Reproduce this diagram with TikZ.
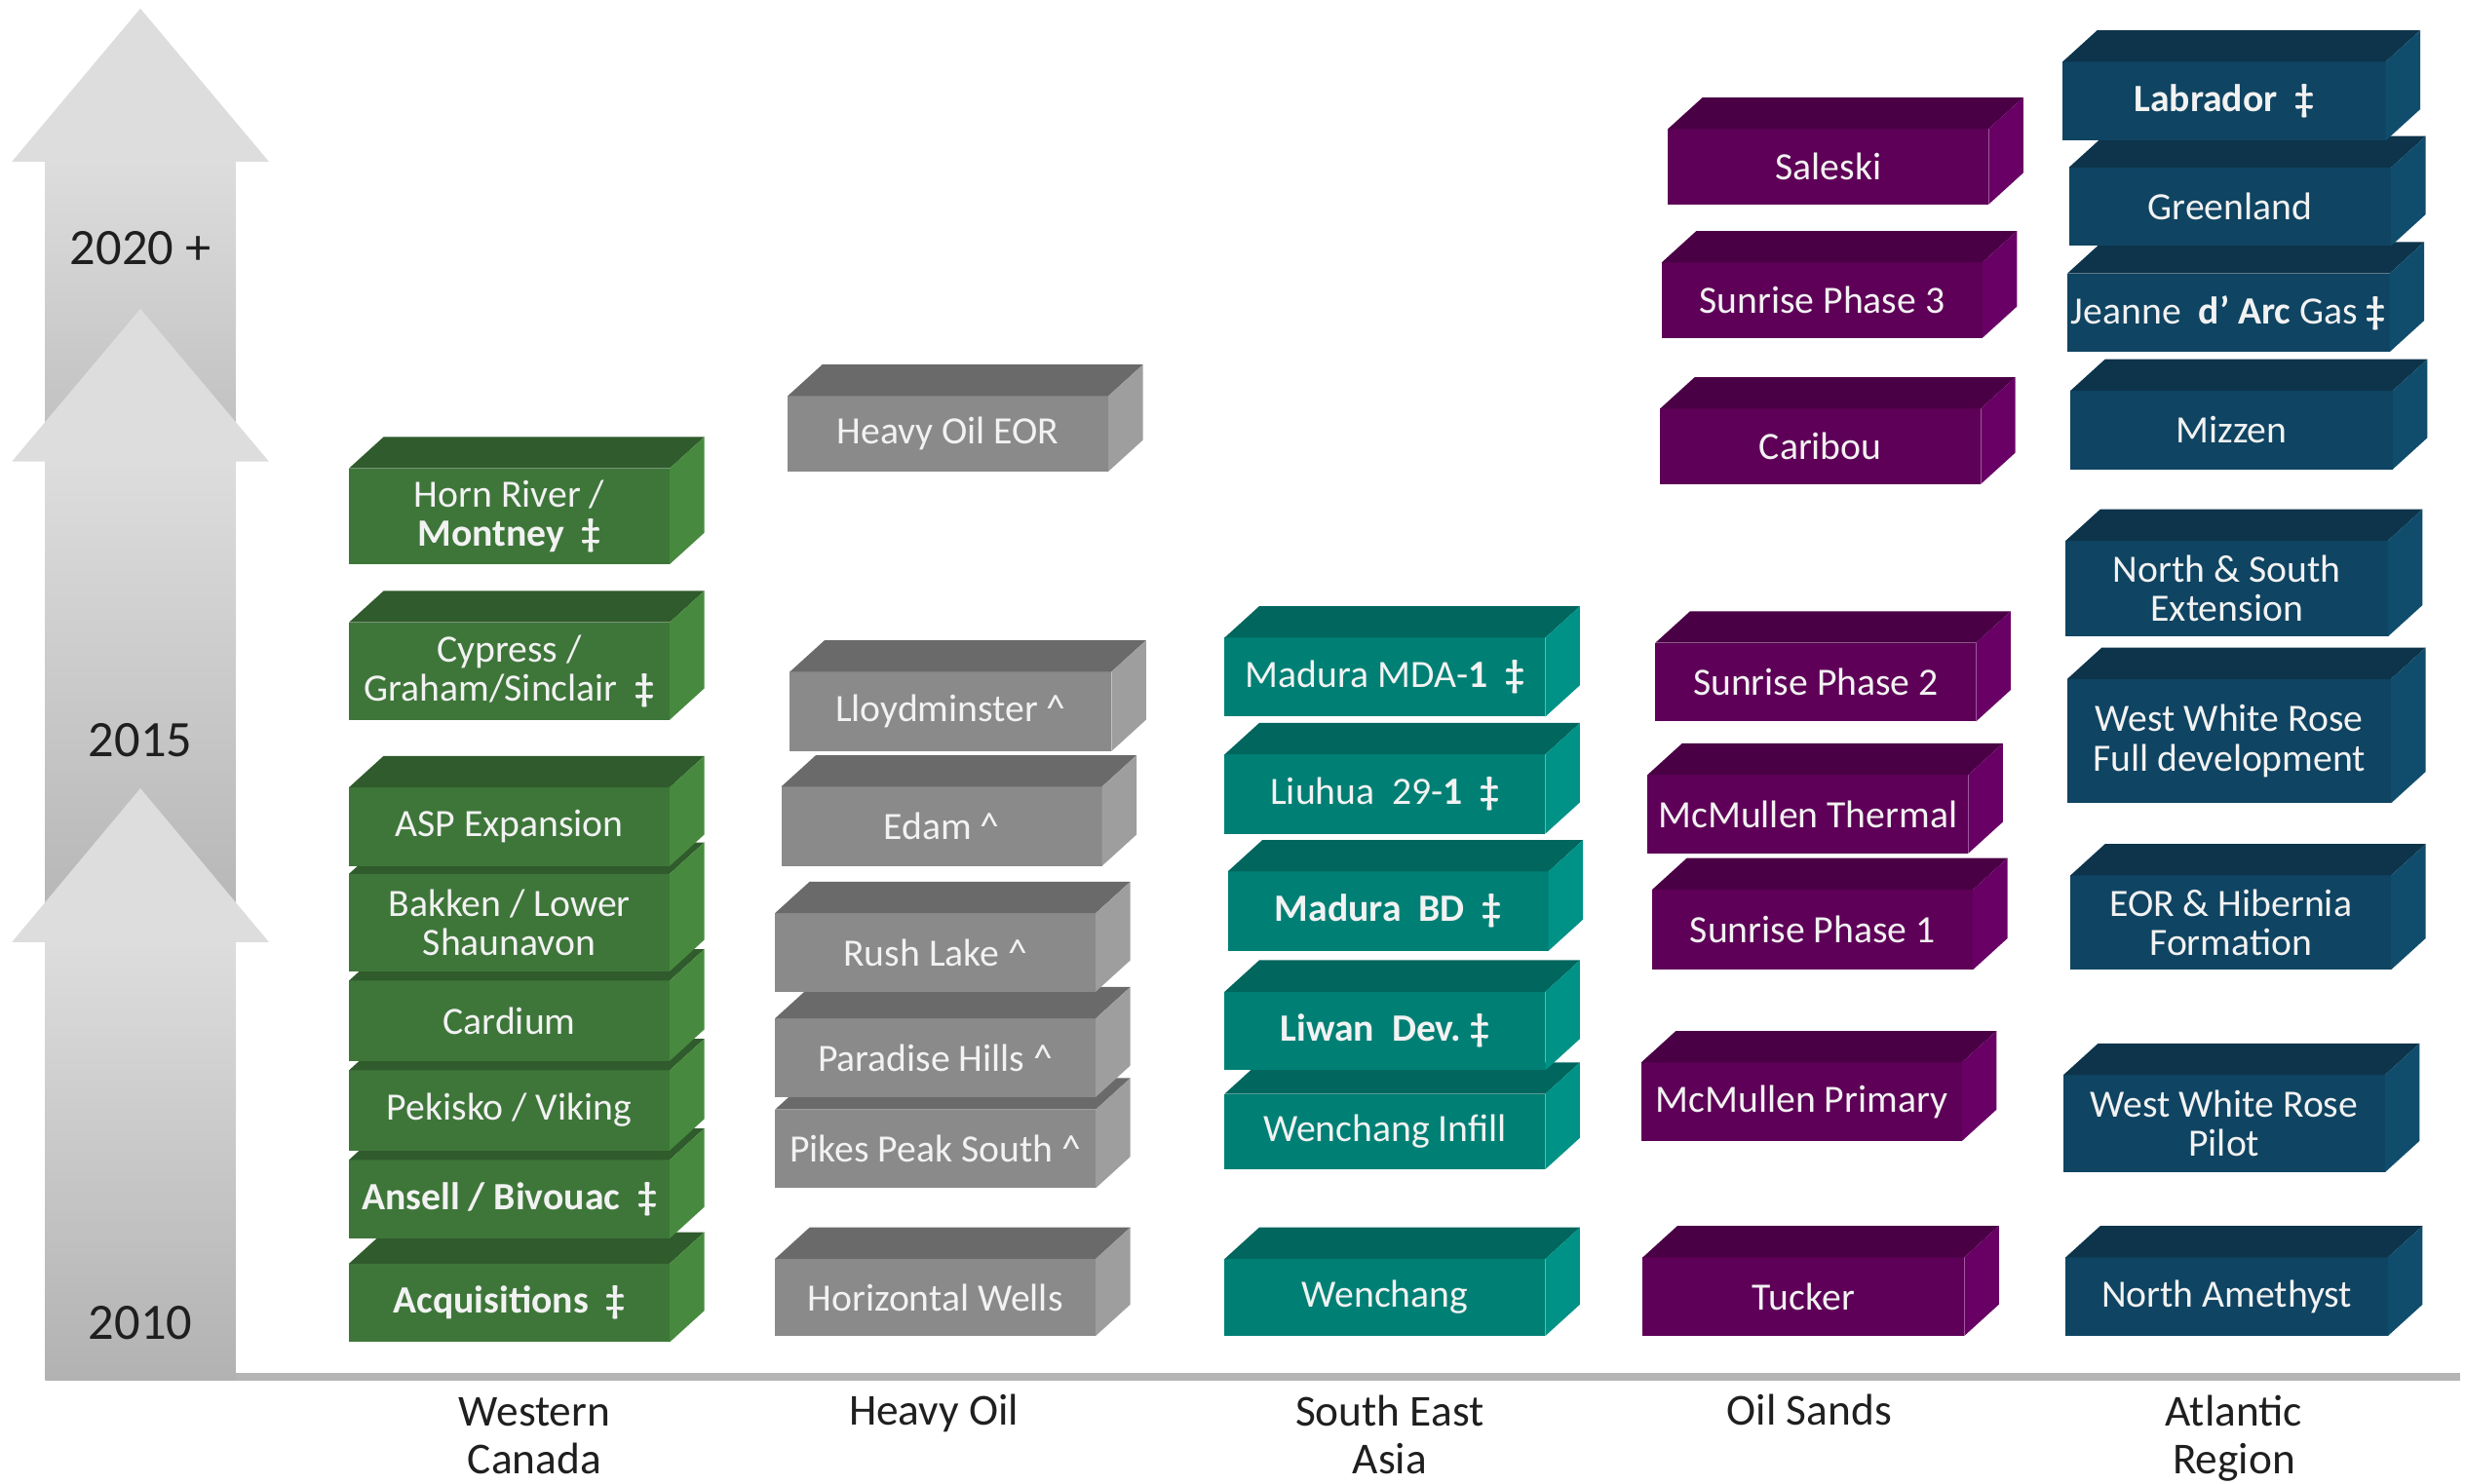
\documentclass[tikz,border=0pt]{standalone}
\usepackage{fontspec}
\setmainfont{Carlito}
\definecolor{wcanF}{HTML}{3E763A}
\definecolor{wcanT}{HTML}{305B2C}
\definecolor{wcanS}{HTML}{478A3F}
\definecolor{hoilF}{HTML}{8A8A8A}
\definecolor{hoilT}{HTML}{6A6A6A}
\definecolor{hoilS}{HTML}{9E9E9E}
\definecolor{seasF}{HTML}{008075}
\definecolor{seasT}{HTML}{00665E}
\definecolor{seasS}{HTML}{009286}
\definecolor{osanF}{HTML}{5E0057}
\definecolor{osanT}{HTML}{4A0045}
\definecolor{osanS}{HTML}{690065}
\definecolor{atlaF}{HTML}{0F4462}
\definecolor{atlaT}{HTML}{0D344B}
\definecolor{atlaS}{HTML}{104D6C}
\definecolor{arrlight}{HTML}{DDDDDD}
\definecolor{arrA}{HTML}{BDBDBD}
\definecolor{arrB}{HTML}{B4B4B4}
\definecolor{arrC}{HTML}{B2B2B2}
\definecolor{axisgrey}{HTML}{B5B5B5}
\tikzset{slabface/.style={inner sep=0pt, outer sep=0pt, anchor=north west,
		align=center, text=white!95!black, font=\fontsize{14}{14.2}\selectfont},
	yearlabel/.style={font=\fontsize{18.5}{20}\selectfont, text=black!88},
	arealabel/.style={font=\fontsize{16}{17.6}\selectfont, text=black!88,
		align=center, anchor=base}}
\newcommand{\slab}[7]{%
	\node[slabface, fill=#2F, minimum width={(#5-#3)*0.02cm},
	minimum height={(#6-#4)*0.02cm}] (#1) at (#3,#4) {#7};
	\fill[#2T] (#1.north west) -- ++(22,-20) -- ([shift={(22,-20)}]#1.north east)
	-- (#1.north east) -- cycle;
	\fill[#2S] (#1.north east) -- ++(22,-20) -- ([shift={(22,-20)}]#1.south east)
	-- (#1.south east) -- cycle;}

\begin{document}
\begin{tikzpicture}[x=0.02cm, y=-0.02cm]
	\useasboundingbox (0,0) rectangle (1568,943.7);
	\foreach \tip/\base/\foot/\dk in {5.4/102.8/300/arrA, 196.5/293.6/600/arrB, 501.6/599.4/878.4/arrC}{
		\shade[top color=arrlight, bottom color=\dk] (28.8,\base-1) rectangle (150,\foot);
		\fill[arrlight] (7.6,\base) -- (89.3,\tip) -- (171,\base) -- cycle;
	}
	\coordinate (axL) at (150,875.8);
	\coordinate (axR) at (1565,875.8);
	\draw[axisgrey, line width=0.1cm] (axL) -- (axR);
	\node[yearlabel] (yr2020) at (89.3,158) {2020 +};
	\node[yearlabel] (yr2015) at (89.3,471) {2015};
	\node[yearlabel] (yr2010) at (89.3,842) {2010};
	
	\slab{acquis}{wcan}{222}{804}{426}{854}{\textbf{Acquisitions~~‡}}
	\slab{ansell}{wcan}{222}{738}{426}{788}{\textbf{Ansell / Bivouac~~‡}}
	\slab{pekisko}{wcan}{222}{681}{426}{732}{Pekisko / Viking}
	\slab{cardium}{wcan}{222}{624}{426}{675}{Cardium}
	\slab{bakken}{wcan}{222}{556}{426}{618}{Bakken / Lower\\Shaunavon}
	\slab{aspexp}{wcan}{222}{501}{426}{551}{ASP Expansion}
	\slab{cypress}{wcan}{222}{396}{426}{458}{Cypress /\\Graham/Sinclair~~\textbf{‡}}
	\slab{hornriv}{wcan}{222}{298}{426}{359}{Horn River /\\\textbf{Montney~~‡}}
	
	\slab{horizw}{hoil}{493}{801}{697}{850}{Horizontal Wells}
	\slab{pikes}{hoil}{493}{706}{697}{756}{Pikes Peak South \textasciicircum}
	\slab{paradise}{hoil}{493}{648}{697}{698}{Paradise Hills \textasciicircum}
	\slab{rushlake}{hoil}{493}{581}{697}{631}{Rush Lake \textasciicircum}
	\slab{edam}{hoil}{497}{500.5}{701}{551}{Edam \textasciicircum}
	\slab{lloyd}{hoil}{502.5}{427.4}{707}{478}{Lloydminster \textasciicircum}
	\slab{hoileor}{hoil}{501}{252}{705}{300}{Heavy Oil EOR}
	
	\slab{wenchang}{seas}{779}{801}{983}{850}{Wenchang}
	\slab{wcinfill}{seas}{779}{696}{983}{744}{Wenchang Infill}
	\slab{liwan}{seas}{779}{631}{983}{681}{\textbf{Liwan~~Dev.~‡}}
	\slab{madurabd}{seas}{781}{554.5}{985}{605}{\textbf{Madura~~BD~~‡}}
	\slab{liuhua}{seas}{779}{480}{983}{530.5}{Liuhua~~29-\textbf{1}~~\textbf{‡}}
	\slab{mdaone}{seas}{779}{405.7}{983}{456}{Madura MDA-\textbf{1}~~\textbf{‡}}
	
	\slab{tucker}{osan}{1045}{800}{1249.5}{850}{Tucker}
	\slab{mcmprim}{osan}{1044}{676}{1248}{726}{McMullen Primary}
	\slab{sunone}{osan}{1051}{566}{1255}{617}{Sunrise Phase 1}
	\slab{mcmtherm}{osan}{1048}{493}{1252}{543}{McMullen Thermal}
	\slab{suntwo}{osan}{1053}{409}{1257}{459}{Sunrise Phase 2}
	\slab{caribou}{osan}{1056}{260}{1260}{308}{Caribou}
	\slab{sunthree}{osan}{1057}{167}{1261}{215}{Sunrise Phase 3}
	\slab{saleski}{osan}{1061}{82}{1265}{130}{Saleski}
	
	\slab{namethyst}{atla}{1314}{800}{1519}{850}{North Amethyst}
	\slab{wwrpilot}{atla}{1312.5}{684}{1517}{746}{West White Rose\\Pilot}
	\slab{eorhib}{atla}{1317}{557}{1521}{617}{EOR \& Hibernia\\Formation}
	\slab{wwrfull}{atla}{1315}{432}{1521}{511}{West White Rose\\Full development}
	\slab{nsext}{atla}{1314}{344}{1519}{405}{North \& South\\Extension}
	\slab{mizzen}{atla}{1317}{248.6}{1522}{298.6}{Mizzen}
	\slab{jeanne}{atla}{1315}{174}{1520}{224}{Jeanne~~\textbf{d’ Arc}~Gas~\textbf{‡}}
	\slab{greenl}{atla}{1316}{106.6}{1521}{156.4}{Greenland}
	\slab{labrador}{atla}{1312}{39.3}{1517.5}{89.5}{\textbf{Labrador~~‡}}
	
	\node[arealabel] (lblwcan) at (340,938) {Western\\Canada};
	\node[arealabel] (lblhoil) at (594,907) {Heavy Oil};
	\node[arealabel] (lblseas) at (884,938) {South East\\Asia};
	\node[arealabel] (lblosan) at (1151,907) {Oil Sands};
	\node[arealabel] (lblatla) at (1421,938) {Atlantic\\Region};
\end{tikzpicture}
\end{document}
